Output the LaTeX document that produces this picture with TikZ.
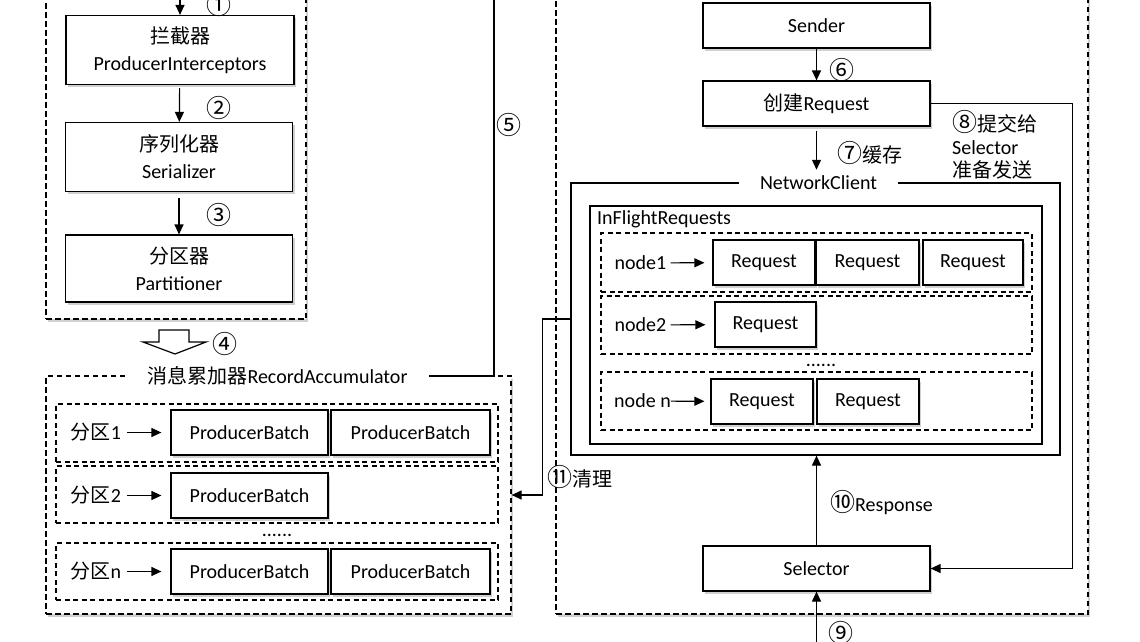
\documentclass[tikz,border=0pt]{standalone}
\usepackage{fontspec}
\setmainfont{Carlito}
\newfontfamily\cjk{Noto Sans CJK SC}
\newcommand{\cnum}[1]{{\cjk\fontsize{25}{25}\selectfont #1}}
\usetikzlibrary{arrows.meta,shadows}

\begin{document}
\begin{tikzpicture}[x=1pt,y=-1pt,
  every node/.append style={font=\fontsize{20}{27}\selectfont},
  shade/.style={drop shadow={shadow xshift=2pt,shadow yshift=-2.5pt,opacity=0.3,fill=black!60}},
  box/.style={draw,line width=1.2pt,fill=white,inner sep=0pt,align=center,minimum height=45pt,shade},
  dcont/.style={draw,dash pattern=on 5.5pt off 3.5pt,line width=1.2pt,fill=white,inner sep=0pt,shade},
  drow/.style={draw,dash pattern=on 5pt off 3.5pt,line width=1.1pt,inner sep=0pt},
  frame/.style={draw,line width=1.2pt,fill=white,inner sep=0pt},
  arr/.style={line width=1.2pt,-{Triangle[length=10pt,width=9pt]}},
  conn/.style={line width=1.2pt},
  title/.style={fill=white,inner xsep=21pt,inner ysep=2pt},
  lbl/.style={inner sep=6pt},
  num/.style={inner sep=1pt}
]
\useasboundingbox (0,0) rectangle (1140,641);
\clip (0,0) rectangle (1140,641);

% ---------------- producer main thread ----------------
\node[dcont,minimum width=260pt,minimum height=339pt] (prod) at (176,149.5) {};
\node[box,minimum width=228pt,minimum height=69pt] (icp) at (180,50)
  {{\cjk 拦截器}\\ProducerInterceptors};
\node[box,minimum width=227pt,minimum height=69pt] (ser) at (179,157)
  {{\cjk 序列化器}\\Serializer};
\node[box,minimum width=227pt,minimum height=67pt] (par) at (179,268.5)
  {{\cjk 分区器}\\Partitioner};

\coordinate (in1) at (180,-4);
\draw[arr] (in1) -- (icp.north);
\draw[arr,shorten <=3pt] (icp) -- (ser);
\draw[arr,shorten <=6pt] (ser) -- (par);
\node[num] (n1) at (219,5) {\cnum{①}};
\node[num] (n2) at (219,108) {\cnum{②}};
\node[num] (n3) at (219,215) {\cnum{③}};

% hollow block arrow into the accumulator
\draw[line width=1.2pt,fill=white,line join=miter]
  (159,330) -- (189,330) -- (189,342) -- (206,342) -- (175,354)
  -- (143,342) -- (159,342) -- cycle;
\node[num] (n4) at (225,344) {\cnum{④}};

% ---------------- RecordAccumulator ----------------
\node[dcont,minimum width=465pt,minimum height=238pt] (ra) at (278.5,495) {};
\node[title] (ratitle) at (277.5,376) {{\cjk 消息累加器}RecordAccumulator};

\node[drow,minimum width=442pt,minimum height=58pt] (r1) at (277,433) {};
\node[drow,minimum width=442pt,minimum height=57pt] (r2) at (277,494.5) {};
\node[drow,minimum width=442pt,minimum height=57pt] (rn) at (277,571.5) {};

\node[box,minimum width=157pt] (pb11) at (249.5,432.5) {ProducerBatch};
\node[box,minimum width=159pt] (pb12) at (410.5,432.5) {ProducerBatch};
\node[box,minimum width=157pt] (pb21) at (249.5,495.5) {ProducerBatch};
\node[box,minimum width=157pt] (pbn1) at (249.5,571.5) {ProducerBatch};
\node[box,minimum width=159pt] (pbn2) at (410.5,571.5) {ProducerBatch};

\node[lbl] (p1) at (96,432.5) {{\cjk 分区}1};
\node[lbl] (p2) at (96,495.5) {{\cjk 分区}2};
\node[lbl] (pn) at (96,571.5) {{\cjk 分区}n};
\draw[arr,shorten >=9pt] (p1) -- (pb11);
\draw[arr,shorten >=9pt] (p2) -- (pb21);
\draw[arr,shorten >=9pt] (pn) -- (pbn1);
\node[anchor=base,inner sep=0pt] (rdots) at (277,536) {......};

% step 5: accumulator towards the sender thread
\coordinate (in5) at (494,-4);
\draw[conn] (in5) |- (ratitle.east);
\node[num] (n5) at (509,125) {\cnum{⑤}};

% ---------------- sender thread ----------------
\node[dcont,minimum width=532pt,minimum height=634pt] (sendt) at (822,297) {};
\node[box,minimum width=227pt] (sender) at (816.5,25.5) {Sender};
\node[box,minimum width=227pt] (creq) at (816.5,103.5) {{\cjk 创建}Request};
\draw[arr] (sender) -- (creq);
\node[num] (n6) at (842,70) {\cnum{⑥}};

% NetworkClient with InFlightRequests
\node[frame,minimum width=489pt,minimum height=272pt] (nc) at (815.5,319) {};
\node[title,inner ysep=6pt] (nctitle) at (818.5,183) {NetworkClient};
\draw[arr,shorten <=4pt] (creq.south) -- (creq.south |- nctitle.north);
\node[anchor=west,inner sep=0pt] (n7) at (837,153) {\cnum{⑦}{\cjk 缓存}};

\node[frame,minimum width=452pt,minimum height=238pt] (ifr) at (816,325) {};
\node[anchor=west,inner sep=0pt] (ifrlbl) at (597,219) {InFlightRequests};

\node[drow,minimum width=431pt,minimum height=59pt] (q1) at (816.5,262.5) {};
\node[drow,minimum width=431pt,minimum height=58pt] (q2) at (816.5,325) {};
\node[drow,minimum width=431pt,minimum height=58pt] (qn) at (816.5,401) {};

\node[box,minimum width=102pt] (rq11) at (764,262.5) {Request};
\node[box,minimum width=103pt] (rq12) at (867.5,262.5) {Request};
\node[box,minimum width=100pt] (rq13) at (973,262.5) {Request};
\node[box,minimum width=101pt] (rq21) at (765.5,324.5) {Request};
\node[box,minimum width=102pt] (rqn1) at (762,401.5) {Request};
\node[box,minimum width=102pt] (rqn2) at (868,401.5) {Request};

\node[inner xsep=4pt] (nd1) at (640.5,263) {node1};
\node[inner xsep=4pt] (nd2) at (640.5,325) {node2};
\node[inner xsep=0pt] (ndn) at (642.5,401) {node n};
\draw[arr,shorten >=8pt] (nd1) -- (rq11);
\draw[arr,shorten >=9pt] (nd2) -- (rq21);
\draw[arr,shorten >=6pt] (ndn) -- (rqn1);
\node[anchor=base,inner sep=0pt] (qdots) at (821,366) {......};

% Selector
\node[box,minimum width=227pt] (sel) at (816.5,568.5) {Selector};
\draw[arr] (creq.east) -- ++(142,0) |- (sel.east);
\node[anchor=west,align=left,inner sep=0pt,font=\fontsize{20}{23}\selectfont] (n8) at (952,145)
  {\cnum{⑧}{\cjk 提交给}\\Selector\\{\cjk 准备发送}};

\draw[arr] (sel.north) -- (sel.north |- nc.south);
\node[anchor=west,inner sep=0pt] (n10) at (830,503) {\cnum{⑩}Response};

\coordinate (in9) at (816.5,650);
\draw[arr] (in9) -- (sel.south);
\node[num] (n9) at (841,633) {\cnum{⑨}};

% step 11: clean-up back into the accumulator
\draw[arr] (nc.west) -- ++(-28,0) |- (ra.east);
\node[anchor=west,inner sep=0pt] (n11) at (547,477) {\cnum{⑪}{\cjk 清理}};
\end{tikzpicture}
\end{document}
